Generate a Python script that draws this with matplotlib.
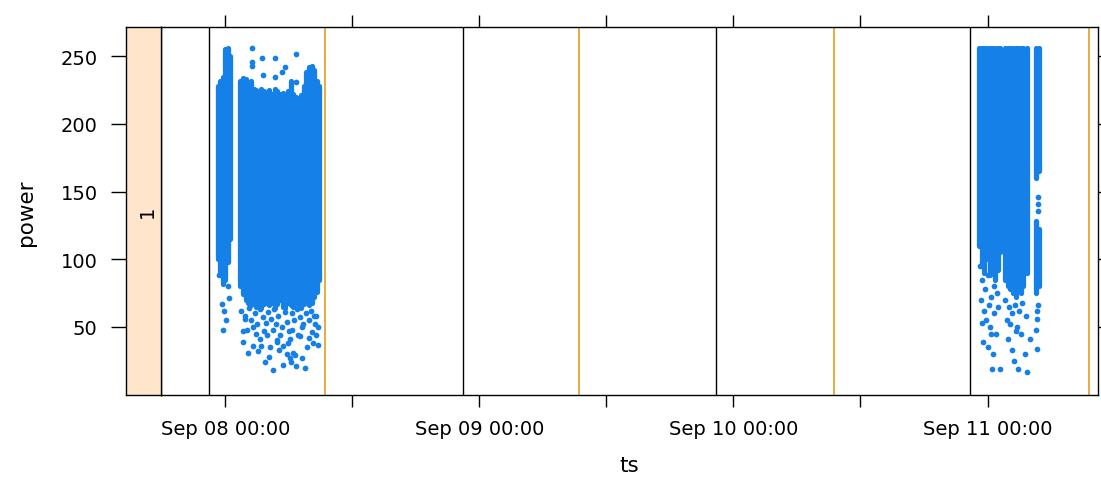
import numpy as np
import pandas as pd
import matplotlib
matplotlib.use('Agg')
import matplotlib.pyplot as plt
import matplotlib.dates as mdates

plt.rcParams['font.family'] = ['DejaVu Sans']

# all times are hours after Sep 08 00:00
T0 = pd.Timestamp('2012-09-08 00:00')

# dense parts of the point cloud, read per time column: (hour, lowest, highest power)
dense_a_h = [-0.75, -0.5, -0.25, 0.0, 0.25, 0.4]
dense_a_lo = [100, 90, 82, 85, 98, 115]
dense_a_hi = [228, 232, 235, 255, 256, 250]

dense_b_h = [1.4, 1.65, 1.9, 2.15, 2.4, 2.65, 2.9, 3.15, 3.4, 3.65, 3.9, 4.15,
             4.4, 4.65, 4.9, 5.15, 5.4, 5.65, 5.9, 6.15, 6.4, 6.65, 6.9, 7.15,
             7.4, 7.65, 7.9, 8.15, 8.4, 8.65, 8.8]
dense_b_lo = [80, 74, 70, 68, 66, 70, 65, 68, 64, 67, 70, 66,
              68, 64, 67, 70, 65, 64, 68, 66, 65, 68, 66, 64,
              67, 70, 66, 68, 72, 76, 85]
dense_b_hi = [232, 234, 233, 230, 232, 226, 225, 223, 226, 224, 223, 225,
              222, 226, 224, 222, 223, 221, 224, 232, 222, 220, 218, 221,
              228, 238, 242, 243, 240, 232, 228]

dense_c_h = [71.2, 71.45, 71.7, 71.95, 72.2, 72.45, 72.7, 72.95, 73.15,
             73.65, 73.9, 74.15, 74.4, 74.65, 74.9, 75.15, 75.4, 75.7,
             76.6, 76.9, 76.6, 76.9]
dense_c_lo = [110, 95, 90, 100, 88, 95, 85, 92, 105,
              85, 80, 78, 75, 72, 78, 75, 80, 90,
              160, 165, 75, 80]
dense_c_hi = [256, 256, 256, 256, 256, 256, 256, 256, 256,
              256, 256, 256, 256, 256, 256, 256, 256, 256,
              256, 256, 128, 122]

# single points outside the dense parts
pts_h = [-0.1, 0.05, -0.2, 0.3, -0.35, 0.2, -0.6,
         2.5, 2.5, 2.5, 3.55, 4.7, 4.7, 5.6, 6.7, 6.7, 3.45, 5.3,
         1.65, 2.1, 3.1, 3.7, 4.45, 5.45, 6.1, 6.7, 7.5, 8.3, 8.75, 5.45, 4.2,
         6.4, 2.6, 4.85, 3.3, 6.1, 7.05, 7.7, 8.2, 2.0, 2.6, 3.6, 4.5, 5.3,
         6.25, 7.2, 8.5, 1.85, 8.6,
         1.5, 1.8, 2.2, 2.4, 2.8, 3.0, 3.3, 3.5, 3.8, 4.0, 4.3, 4.6, 4.8, 5.0,
         5.2, 5.6, 5.8, 6.0, 6.3, 6.5, 6.8, 7.0, 7.3, 7.6, 7.9, 8.1, 8.4, 8.7,
         3.9, 4.9, 5.9, 6.9, 2.9, 1.7, 7.9, 8.6, 3.4, 5.1, 6.6, 4.1, 5.8, 7.2,
         6.2,
         72.4, 73.2, 71.6, 72.5, 71.5, 72.2, 72.8,
         71.3, 71.5, 71.8, 72.0, 72.3, 72.6, 72.9, 71.4, 71.7, 72.1, 72.6,
         73.0, 71.9, 72.3, 72.0,
         74.9, 75.7, 74.3, 74.7, 76.0, 73.9,
         73.7, 74.0, 74.3, 74.6, 75.0, 75.3, 75.6, 74.1, 74.8, 75.2, 73.8,
         75.5, 74.5,
         76.75, 76.75, 76.75, 76.7, 76.6, 76.7, 76.8, 76.65]
pts_p = [62, 55, 48, 71, 67, 80, 88,
         256, 246, 243, 236, 249, 235, 242, 252, 231, 249, 238,
         39, 31, 32, 24, 18, 22, 27, 21, 20, 38, 37, 36, 35,
         31, 36, 39, 41, 41, 43, 35, 46, 48, 50, 47, 48, 50,
         48, 50, 52, 56, 58,
         62, 58, 64, 55, 60, 52, 63, 57, 53, 61, 56, 63, 52, 58,
         44, 61, 54, 47, 60, 55, 63, 57, 52, 60, 55, 62, 58, 50,
         44, 40, 38, 44, 45, 47, 42, 44, 36, 33, 29, 28, 30, 27,
         24,
         19, 19, 39, 30, 53, 50, 45,
         95, 85, 78, 88, 72, 80, 75, 70, 62, 66, 60,
         65, 55, 45, 35,
         19, 17, 33, 47, 41, 41,
         70, 65, 60, 66, 62, 68, 58, 52, 50, 45, 55,
         30, 25,
         146, 141, 136, 56, 48, 34, 66, 62]

# reference lines
black_h = [-1.6, 22.4, 46.35, 70.33]
orange_h = [9.4, 33.45, 57.47, 81.6]

BLUE = '#1580e8'
ORANGE = '#e3a633'


def to_num(hours):
    t = T0 + pd.to_timedelta(np.asarray(hours, dtype=float), unit='h')
    return mdates.date2num(t.to_pydatetime())


fig = plt.figure(figsize=(11.01, 4.89), dpi=100)
W, H = 1101, 489
ax = fig.add_axes([161 / W, 1 - 396 / H, (1098 - 161) / W, (396 - 28) / H])
sx = fig.add_axes([126 / W, 1 - 396 / H, (161 - 126) / W, (396 - 28) / H])

for h in black_h:
    ax.axvline(to_num([h])[0], color='black', lw=1.0, zorder=1)
for h in orange_h:
    ax.axvline(to_num([h])[0], color=ORANGE, lw=1.3, zorder=1)

for hh, lo, hi in [(dense_a_h, dense_a_lo, dense_a_hi),
                   (dense_b_h, dense_b_lo, dense_b_hi),
                   (dense_c_h, dense_c_lo, dense_c_hi)]:
    lc = ax.vlines(to_num(hh), lo, hi, colors=BLUE, linewidth=3.8, zorder=2)
    lc.set_capstyle('round')
ax.scatter(to_num(pts_h), pts_p, s=17, c=BLUE, linewidths=0, zorder=3)

ax.set_xlim(to_num([-6.09, 82.44]))
ax.set_ylim(-0.3, 271.6)
yt = [50, 100, 150, 200, 250]
ax.set_yticks(yt)
ax.xaxis.set_major_locator(mdates.HourLocator(byhour=[0, 12]))
ax.xaxis.set_major_formatter(
    plt.FuncFormatter(lambda v, p: mdates.num2date(v).strftime('%b %d %H:%M')
                      if mdates.num2date(v).hour == 0 else ''))
ax.tick_params(axis='x', top=True, bottom=True, direction='out', length=8.6,
               width=1, labelsize=14, pad=9)
ax.tick_params(axis='y', left=False, labelleft=False, right=True, direction='out',
               length=10.5, width=1)
for s in ax.spines.values():
    s.set_linewidth(1)

sx.set_facecolor('#ffe5cc')
sx.set_ylim(ax.get_ylim())
sx.set_xticks([])
sx.set_yticks(yt)
sx.tick_params(axis='y', direction='out', length=10.5, width=1, labelsize=14, pad=10)
sx.text(0.6, 0.5, '1', rotation=90, ha='center', va='center', fontsize=14,
        transform=sx.transAxes)
for s in sx.spines.values():
    s.set_linewidth(1)

fig.text(26 / W, 1 - 213 / H, 'power', rotation=90, ha='center', va='center', fontsize=15.5)
fig.text(629 / W, 1 - 466 / H, 'ts', ha='center', va='center', fontsize=15.5)

fig.savefig('out.png', dpi=100)
